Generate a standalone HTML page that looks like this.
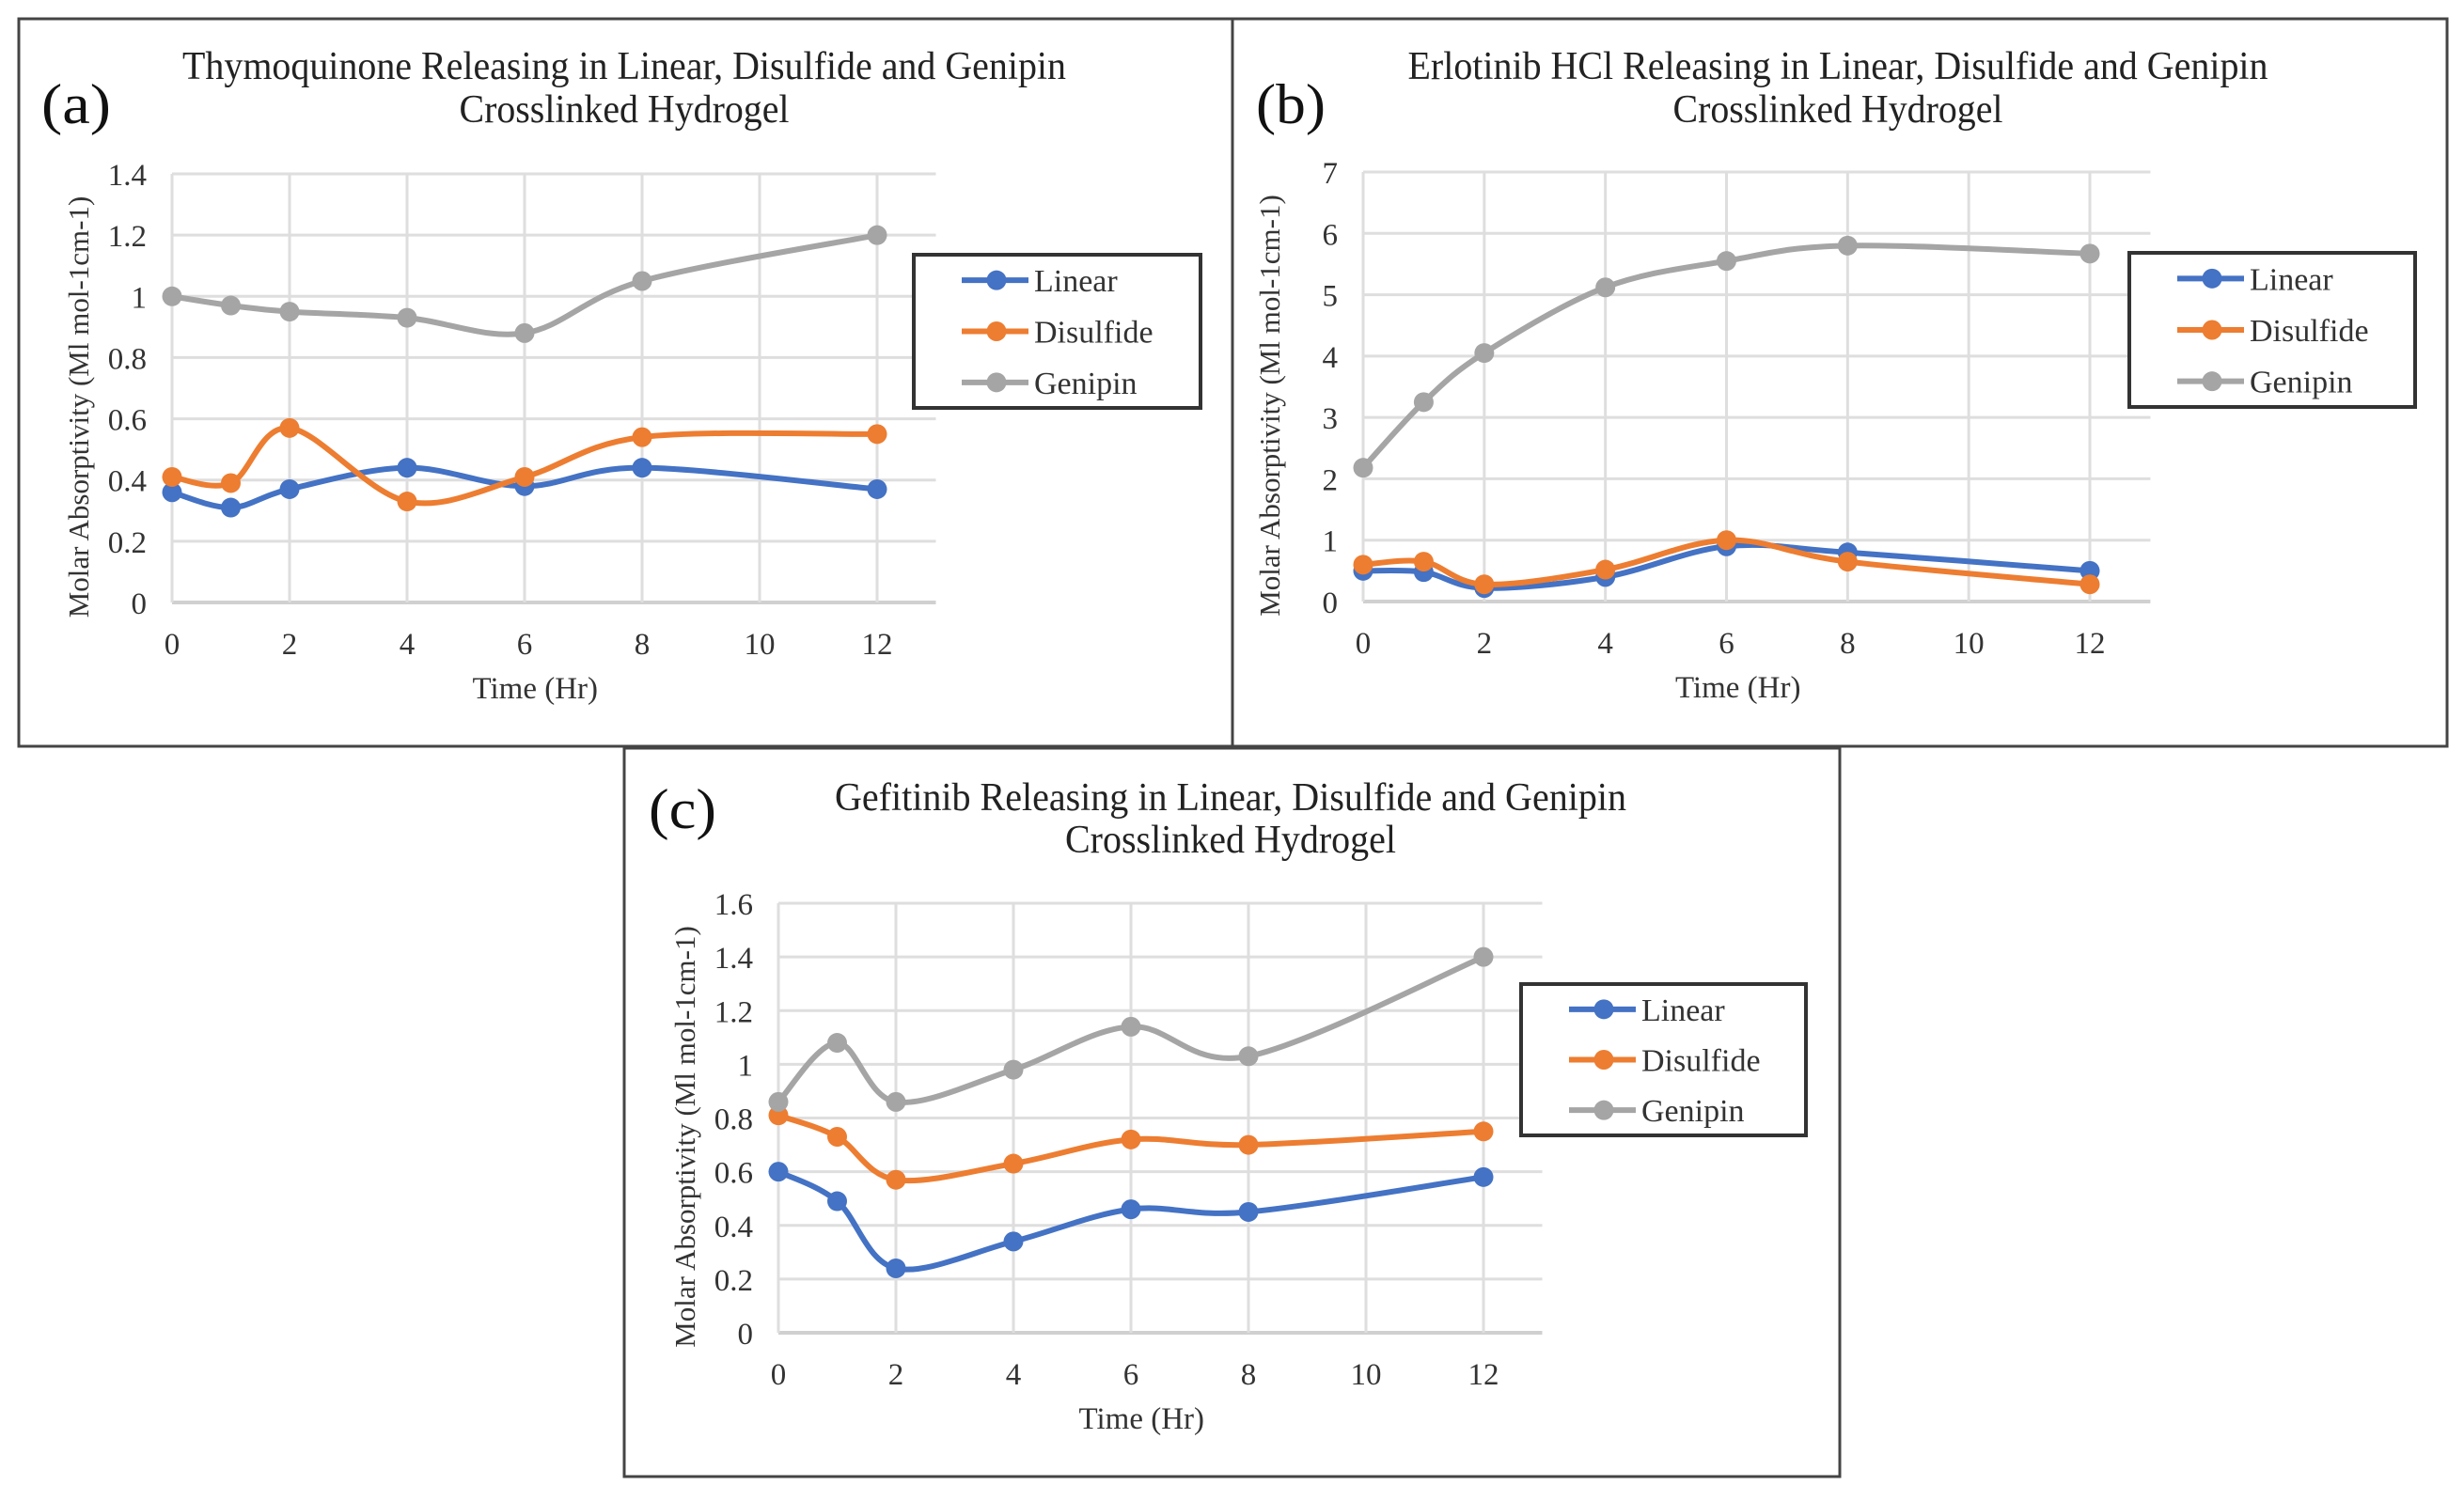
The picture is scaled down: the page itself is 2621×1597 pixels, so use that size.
<!DOCTYPE html>
<html><head><meta charset="utf-8"><style>
html,body{margin:0;padding:0;background:#fff;}
svg{display:block;font-family:"Liberation Serif",serif;}
</style></head><body>
<svg id="fig" xmlns="http://www.w3.org/2000/svg" width="2621" height="1597" viewBox="0 0 2621 1597">
<rect width="2621" height="1597" fill="#fff"/>
<rect x="20" y="20" width="1291" height="774" fill="none" stroke="#444" stroke-width="3"/>
<rect x="1311" y="20" width="1292" height="774" fill="none" stroke="#444" stroke-width="3"/>
<rect x="664" y="796" width="1293" height="775" fill="none" stroke="#444" stroke-width="3"/>
<g id="pa"></g>
<g id="pb"></g>
<g id="pc"></g>
</svg>
<script>
const hours = [0,1,2,4,6,8,12];
const seriesNames = ["Linear","Disulfide","Genipin"];
const aLinear = [0.36,0.31,0.37,0.44,0.38,0.44,0.37];
const aDisulfide = [0.41,0.39,0.57,0.33,0.41,0.54,0.55];
const aGenipin = [1.00,0.97,0.95,0.93,0.88,1.05,1.20];
const aYTicks = ["0","0.2","0.4","0.6","0.8","1","1.2","1.4"];
const bLinear = [0.50,0.48,0.22,0.40,0.90,0.80,0.50];
const bDisulfide = [0.60,0.65,0.28,0.52,1.00,0.65,0.28];
const bGenipin = [2.18,3.25,4.05,5.12,5.55,5.80,5.67];
const bYTicks = ["0","1","2","3","4","5","6","7"];
const cLinear = [0.60,0.49,0.24,0.34,0.46,0.45,0.58];
const cDisulfide = [0.81,0.73,0.57,0.63,0.72,0.70,0.75];
const cGenipin = [0.86,1.08,0.86,0.98,1.14,1.03,1.40];
const cYTicks = ["0","0.2","0.4","0.6","0.8","1","1.2","1.4","1.6"];
const xTicks = ["0","2","4","6","8","10","12"];

const NS="http://www.w3.org/2000/svg";
const colors=["#4472c4","#ed7d31","#a5a5a5"];
function mk(tag,attrs,parent){const e=document.createElementNS(NS,tag);for(const k in attrs)e.setAttribute(k,attrs[k]);parent.appendChild(e);return e;}
function smoothPath(pts){
  let d="M"+pts[0][0]+","+pts[0][1];
  for(let i=0;i<pts.length-1;i++){
    const p0=pts[i-1]||pts[i],p1=pts[i],p2=pts[i+1],p3=pts[i+2]||p2;
    const t=1/6;
    const c1=[p1[0]+(p2[0]-p0[0])*t,p1[1]+(p2[1]-p0[1])*t];
    const c2=[p2[0]-(p3[0]-p1[0])*t,p2[1]-(p3[1]-p1[1])*t];
    d+=" C"+c1[0]+","+c1[1]+" "+c2[0]+","+c2[1]+" "+p2[0]+","+p2[1];
  }
  return d;
}
function chart(g,cfg){
  const X=v=>cfg.x0+(v/12)*(cfg.x12-cfg.x0);
  const Y=v=>cfg.y0-(v/cfg.ymax)*(cfg.y0-cfg.ytop);
  const xr=X(13);
  const lab=mk("text",{x:cfg.lx,y:cfg.ly,"font-size":60,fill:"#111",textLength:cfg.lw,lengthAdjust:"spacingAndGlyphs"},g);
  lab.textContent=cfg.letter;
  
  
  cfg.title.forEach((t,i)=>{
    const e=mk("text",{x:cfg.tx-cfg.tw[i]/2,y:cfg.ty[i],"font-size":42,fill:"#222",textLength:cfg.tw[i],lengthAdjust:"spacingAndGlyphs"},g);
    e.textContent=t;
    
    
  });
  const yt=cfg.yTicks;
  yt.forEach((t,i)=>{
    const v=i*cfg.ymax/(yt.length-1);
    const ln=mk("line",{x1:cfg.x0,x2:xr,y1:Y(v),y2:Y(v),stroke:i==0?"#d0d0d0":"#dedede","stroke-width":i==0?4:3},g);
    
    
    const e=mk("text",{x:cfg.x0-27,y:Y(v)+12,"font-size":33,"text-anchor":"end",fill:"#333"},g);
    e.textContent=t;
    
    
  });
  xTicks.forEach(t=>{
    const v=+t;
    const ln=mk("line",{x1:X(v),x2:X(v),y1:cfg.ytop,y2:cfg.y0,stroke:"#dedede","stroke-width":3},g);
    
    
    const e=mk("text",{x:X(v),y:cfg.y0+55,"font-size":33,"text-anchor":"middle",fill:"#333"},g);
    e.textContent=t;
    
    
  });
  const xl=mk("text",{x:(cfg.x0+xr)/2-20,y:cfg.y0+102,"font-size":33,"text-anchor":"middle",fill:"#333"},g);
  xl.textContent="Time (Hr)";
  
  
  const ym=(cfg.y0+cfg.ytop)/2+20;
  const yl=mk("text",{x:0,y:0,"font-size":31,"text-anchor":"middle",fill:"#333",transform:"translate("+(cfg.x0-89)+","+ym+") rotate(-90)"},g);
  yl.textContent="Molar Absorptivity (Ml mol-1cm-1)";
  
  
  cfg.series.forEach((s,si)=>{
    const pts=hours.map((h,i)=>[X(h),Y(s[i])]);
    const p=mk("path",{d:smoothPath(pts),fill:"none",stroke:colors[si],"stroke-width":6},g);
    
    
    pts.forEach(q=>{
      const c=mk("circle",{cx:q[0],cy:q[1],r:10.5,fill:colors[si]},g);
      
      
    });
  });
  const lg=mk("g",{},g);
  
  
  const r=mk("rect",{x:cfg.lgx,y:cfg.lgy,width:cfg.lgw,height:cfg.lgh,fill:"#fff",stroke:"#333","stroke-width":4},lg);
  
  
  const step=cfg.lgh/3;
  seriesNames.forEach((n,i)=>{
    const yy=cfg.lgy+step*(i+0.5);
    const ent=mk("g",{},lg);
    
    
    mk("line",{x1:cfg.lgx+51,x2:cfg.lgx+122,y1:yy,y2:yy,stroke:colors[i],"stroke-width":6},ent);
    mk("circle",{cx:cfg.lgx+88,cy:yy,r:10.5,fill:colors[i]},ent);
    const t=mk("text",{x:cfg.lgx+128,y:yy+12,"font-size":34,fill:"#333"},ent);
    t.textContent=n;
  });
}
chart(document.getElementById("pa"),{letter:"(a)",lx:44,ly:131,lw:74,
  title:["Thymoquinone Releasing in Linear, Disulfide and Genipin","Crosslinked Hydrogel"],tx:664,ty:[84,130],tw:[940,351],
  x0:183,x12:933,y0:641,ytop:185,ymax:1.4,yTicks:aYTicks,series:[aLinear,aDisulfide,aGenipin],
  lgx:972,lgy:271,lgw:305,lgh:163});
chart(document.getElementById("pb"),{letter:"(b)",lx:1336,ly:131,lw:74,
  title:["Erlotinib HCl Releasing in Linear, Disulfide and Genipin","Crosslinked Hydrogel"],tx:1955,ty:[84,130],tw:[915,351],
  x0:1450,x12:2223,y0:640,ytop:183,ymax:7,yTicks:bYTicks,series:[bLinear,bDisulfide,bGenipin],
  lgx:2265,lgy:269,lgw:304,lgh:164});
chart(document.getElementById("pc"),{letter:"(c)",lx:690,ly:881,lw:72,
  title:["Gefitinib Releasing in Linear, Disulfide and Genipin","Crosslinked Hydrogel"],tx:1309,ty:[862,907],tw:[842,352],
  x0:828,x12:1578,y0:1418,ytop:961,ymax:1.6,yTicks:cYTicks,series:[cLinear,cDisulfide,cGenipin],
  lgx:1618,lgy:1047,lgw:303,lgh:161});
</script>
</body></html>
